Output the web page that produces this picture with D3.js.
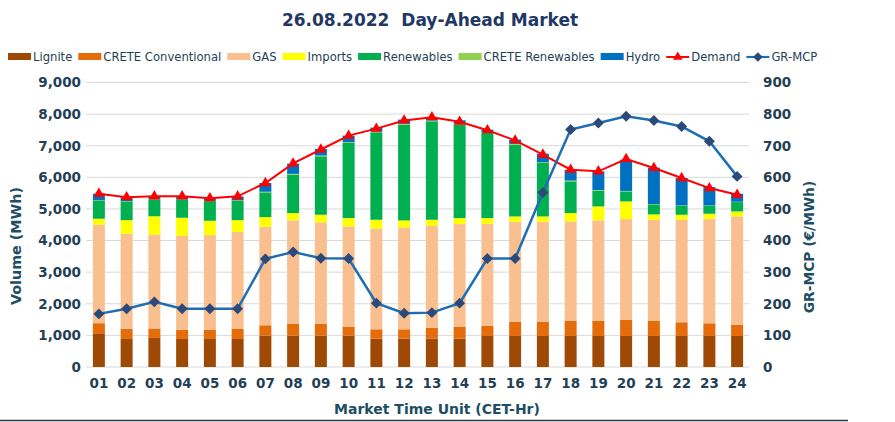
<!DOCTYPE html>
<html><head><meta charset="utf-8">
<script src="https://cdn.jsdelivr.net/npm/d3@7"></script>
<style>body{margin:0;background:#fff;} svg{display:block;font-family:"DejaVu Sans",sans-serif;}</style>
</head><body>
<svg id="c" width="895" height="422"></svg>
<script>
const hours = ["01","02","03","04","05","06","07","08","09","10","11","12","13","14","15","16","17","18","19","20","21","22","23","24"];
const lignite = [1045,887,919,887,887,887,993,993,993,993,898,898,898,898,982,982,982,982,982,982,982,982,982,982];
const creteConv = [340,325,300,285,285,315,327,370,370,285,295,295,348,380,317,454,454,486,486,507,486,433,401,349];
const gas = [3116,3000,2969,2979,3000,3074,3116,3275,3211,3169,3191,3222,3222,3243,3232,3158,3158,3137,3169,3190,3190,3243,3296,3432];
const imports = [190,434,580,570,454,370,306,232,243,264,274,222,190,190,180,169,169,264,443,559,170,158,169,159];
const renewables = [580,590,528,570,623,622,782,1215,1848,2377,2767,3031,3116,2957,2693,2271,1690,1003,497,317,317,285,253,295];
const creteRen = [10,10,10,10,10,10,20,25,25,25,25,25,25,25,25,25,25,25,20,15,10,10,10,10];
const hydro = [200,129,96,96,85,117,276,323,209,206,123,133,80,112,81,134,271,345,592,989,1153,867,582,255];
const demand = [5480,5370,5400,5400,5340,5400,5820,6440,6880,7320,7540,7800,7900,7760,7490,7170,6720,6242,6190,6580,6296,5978,5660,5450];
const mcp = [168,184,206,184,184,184,342,364,344,343,202,170,172,202,343,343,552,751,772,793,780,761,714,603];
const volTicks = [0,1000,2000,3000,4000,5000,6000,7000,8000,9000];
const priceTicks = [0,100,200,300,400,500,600,700,800,900];

const seriesNames = ["Lignite","CRETE Conventional","GAS","Imports","Renewables","CRETE Renewables","Hydro"];
const seriesData = [lignite,creteConv,gas,imports,renewables,creteRen,hydro];
const colors = ["#9E4A06","#E46C0A","#F9BF8F","#FFFF00","#00B050","#92D050","#0070C0"];

const svg = d3.select("#c");
const txt = "#243F55";
const x = d3.scaleBand().domain(hours).range([85,751]).padding(0);
const y = d3.scaleLinear().domain([0,9000]).range([367,82.5]);
const y2 = d3.scaleLinear().domain([0,900]).range([367,82.5]);

// title
svg.append("text").attr("x",430).attr("y",26).attr("text-anchor","middle")
  .attr("font-size",17).attr("font-weight","bold").attr("fill","#1F3864")
  .text("26.08.2022\u00A0\u00A0Day-Ahead Market");

// gridlines
svg.append("g").selectAll("line").data(volTicks).join("line")
  .attr("x1",86).attr("x2",749).attr("y1",d=>y(d)).attr("y2",d=>y(d))
  .attr("stroke","#D9D9D9").attr("stroke-width",1);

// left axis
const ga = svg.append("g").attr("transform","translate(81,0)")
  .call(d3.axisLeft(y).tickValues(volTicks).tickSize(0).tickPadding(0).tickFormat(d3.format(",")));
ga.select(".domain").remove();
ga.selectAll("text").attr("font-size",13.5).attr("font-weight","bold").attr("fill",txt).attr("font-family","DejaVu Sans");
// right axis
const gr = svg.append("g").attr("transform","translate(763,0)")
  .call(d3.axisRight(y2).tickValues(priceTicks).tickSize(0).tickPadding(0));
gr.select(".domain").remove();
gr.selectAll("text").attr("font-size",13.5).attr("font-weight","bold").attr("fill",txt).attr("font-family","DejaVu Sans");
// x axis
const gx = svg.append("g").attr("transform","translate(0,378)")
  .call(d3.axisBottom(x).tickSize(0).tickPadding(0));
gx.select(".domain").remove();
gx.selectAll("text").attr("font-size",13.5).attr("font-weight","bold").attr("fill",txt).attr("font-family","DejaVu Sans");

// axis titles
svg.append("text").attr("transform","translate(21,246) rotate(-90)").attr("text-anchor","middle")
  .attr("font-size",14.3).attr("font-weight","bold").attr("fill","#1D4E63").text("Volume (MWh)");
svg.append("text").attr("transform","translate(814,247) rotate(-90)").attr("text-anchor","middle")
  .attr("font-size",13.8).attr("font-weight","bold").attr("fill","#1D4E63").text("GR-MCP (\u20AC/MWh)");
svg.append("text").attr("x",437).attr("y",414).attr("text-anchor","middle")
  .attr("font-size",14).attr("font-weight","bold").attr("fill","#1D4E63").text("Market Time Unit (CET-Hr)");
svg.append("line").attr("x1",0).attr("x2",848).attr("y1",420.5).attr("y2",420.5).attr("stroke","#1F3B4D").attr("stroke-width",1.5);

// stacked bars
const rows = hours.map((h,i)=>{const r={h}; seriesNames.forEach((n,k)=>r[n]=seriesData[k][i]); return r;});
const stack = d3.stack().keys(seriesNames)(rows);
const bw = 12;
svg.append("g").selectAll("g").data(stack).join("g").attr("fill",(d,i)=>colors[i])
  .selectAll("rect").data(d=>d).join("rect")
  .attr("x",d=>x(d.data.h)+x.bandwidth()/2-bw/2).attr("width",bw)
  .attr("y",d=>y(d[1])).attr("height",d=>Math.max(0,y(d[0])-y(d[1])));

// demand line
const cx = h=>x(h)+x.bandwidth()/2;
svg.append("path").datum(demand).attr("fill","none").attr("stroke","#FF0000").attr("stroke-width",2)
  .attr("d",d3.line().x((d,i)=>cx(hours[i])).y(d=>y(d)));
svg.append("g").selectAll("path").data(demand).join("path")
  .attr("transform",(d,i)=>`translate(${cx(hours[i])},${y(d)})`)
  .attr("d",d3.symbol(d3.symbolTriangle,50)).attr("fill","#FF0000");

// MCP line
svg.append("path").datum(mcp).attr("fill","none").attr("stroke","#1F6DB3").attr("stroke-width",2.5)
  .attr("d",d3.line().x((d,i)=>cx(hours[i])).y(d=>y2(d)));
svg.append("g").selectAll("path").data(mcp).join("path")
  .attr("transform",(d,i)=>`translate(${cx(hours[i])},${y2(d)}) rotate(45)`)
  .attr("d",d3.symbol(d3.symbolSquare,60)).attr("fill","#2B4A7A");

// legend
const lg = svg.append("g").attr("font-size",11.6).attr("fill",txt);
let lx = 8; const ly = 57;
const items = seriesNames.map((n,i)=>({n,type:"bar",c:colors[i]}))
  .concat([{n:"Demand",type:"demand"},{n:"GR-MCP",type:"mcp"}]);
items.forEach(it=>{
  const g = lg.append("g");
  if(it.type==="bar"){
    g.append("rect").attr("x",lx).attr("y",ly-4).attr("width",23).attr("height",7).attr("fill",it.c);
  } else if(it.type==="demand"){
    g.append("line").attr("x1",lx).attr("x2",lx+23).attr("y1",ly).attr("y2",ly).attr("stroke","#FF0000").attr("stroke-width",2);
    g.append("path").attr("transform",`translate(${lx+11.5},${ly})`).attr("d",d3.symbol(d3.symbolTriangle,40)).attr("fill","#FF0000");
  } else {
    g.append("line").attr("x1",lx).attr("x2",lx+23).attr("y1",ly).attr("y2",ly).attr("stroke","#1F6DB3").attr("stroke-width",2.2);
    g.append("path").attr("transform",`translate(${lx+11.5},${ly}) rotate(45)`).attr("d",d3.symbol(d3.symbolSquare,45)).attr("fill","#2B4A7A");
  }
  const t = g.append("text").attr("x",lx+25).attr("y",ly+4).attr("font-weight","500").text(it.n);
  lx += 25 + t.node().getComputedTextLength() + 6;
});
</script>
</body></html>
